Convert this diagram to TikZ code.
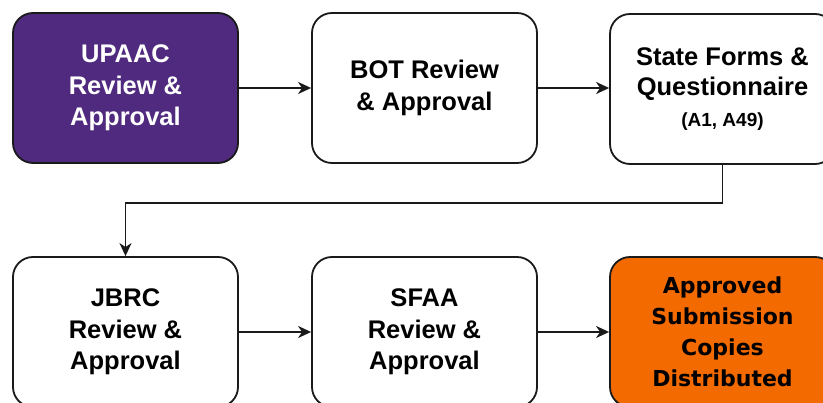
\documentclass[tikz,border=0pt]{standalone}
\usepackage{fontspec}
\setmainfont{Liberation Sans}
\newfontfamily\widefont{DejaVu Sans}
\usetikzlibrary{arrows.meta}
\definecolor{purplebox}{HTML}{4F2A7E}
\definecolor{orangebox}{HTML}{F26A00}
\definecolor{edge}{HTML}{1A1A1A}
\tikzset{
  stagebox/.style={draw=edge, line width=1.8pt, rounded corners=20pt,
    minimum width=225pt, minimum height=150pt, fill=white, align=center,
    font=\bfseries\fontsize{25.5}{31.5}\selectfont, inner sep=0pt},
  flowarrow/.style={draw=edge, line width=1.8pt,
    -{Stealth[length=13pt,width=12pt,inset=4pt]}}
}
\begin{document}
\begin{tikzpicture}[x=1pt,y=-1pt]
  \useasboundingbox (0,0) rectangle (823,403);
  \clip (0,0) rectangle (823,403);
  \fill[white] (0,0) rectangle (823,403);
  % top row
  \node[stagebox, fill=purplebox, text=white] (upaac) at (125.5,88)
    {UPAAC\\Review \&\\Approval};
  \node[stagebox] (bot) at (424.5,88) {BOT Review\\\& Approval};
  \node[stagebox, font=\bfseries\fontsize{25.5}{30.5}\selectfont] (state) at (722.5,89)
    {State Forms \&\\Questionnaire\\{\fontsize{19}{22}\selectfont (A1, A49)}};
  % bottom row
  \node[stagebox] (jbrc) at (125.5,332) {JBRC\\Review \&\\Approval};
  \node[stagebox] (sfaa) at (424.5,332) {SFAA\\Review \&\\Approval};
  \node[stagebox, fill=orangebox, text=black,
        font=\widefont\bfseries\fontsize{22}{31}\selectfont] (done) at (722.5,332)
    {Approved\\Submission\\Copies\\Distributed};
  % connectors
  \draw[flowarrow] (upaac) -- (bot);
  \draw[flowarrow] (bot) -- (state.west |- bot.east);
  \draw[flowarrow] (state.south) -- ++(0,38) -| (jbrc.north);
  \draw[flowarrow] (jbrc) -- (sfaa);
  \draw[flowarrow] (sfaa) -- (done);
\end{tikzpicture}
\end{document}
